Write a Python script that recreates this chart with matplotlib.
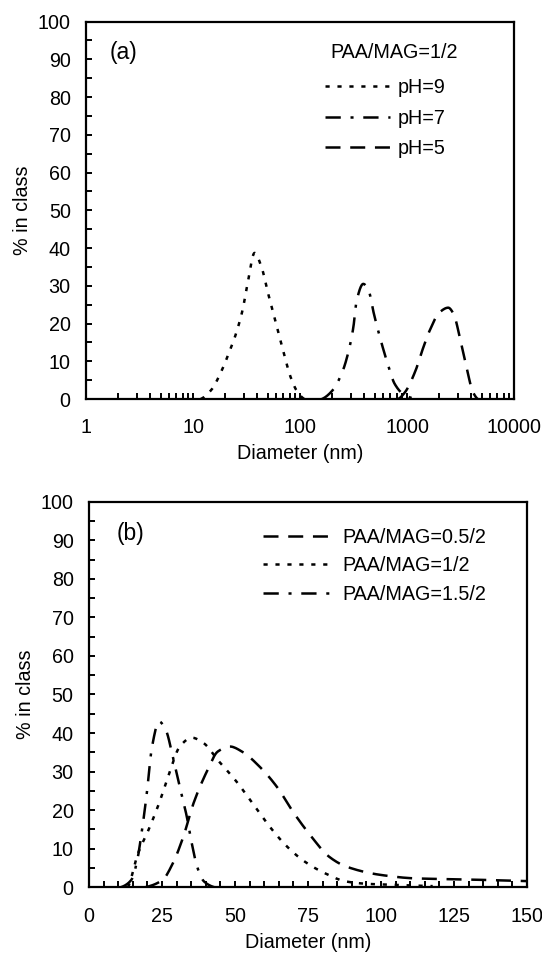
import matplotlib
matplotlib.use("Agg")
import matplotlib.pyplot as plt
import numpy as np

plt.rcParams['font.family'] = ['Liberation Sans', 'DejaVu Sans']
plt.rcParams['lines.scale_dashes'] = False

# ---- Panel (a) data: log-scale diameter distributions at different pH ----
ph9_x = [11.8, 14.8, 18.5, 21.5, 25, 29, 32.3, 37.6, 43.6, 50.3, 61, 70.8, 81.7, 95, 110]
ph9_y = [0, 2.4, 7.5, 12, 17, 23.5, 30.5, 38.7, 35, 28, 19, 12, 5.8, 1.8, 0]

ph7_x = [160, 200, 251, 290, 315, 338, 390, 437, 490, 569, 660, 767, 923, 1200]
ph7_y = [0, 2.2, 7.5, 13.7, 19, 26, 30.5, 28.8, 22.6, 15.5, 9.3, 4, 1.3, 0]

ph5_x = [826, 957, 1200, 1385, 1620, 2018, 2427, 2717, 3160, 3660, 4080, 4580]
ph5_y = [0, 1.8, 7.5, 12.8, 18, 23, 24.2, 22.6, 15.5, 7.5, 2.2, 0]

labels_a = ["pH=9", "pH=7", "pH=5"]
title_a = "PAA/MAG=1/2"

# ---- Panel (b) data: linear-scale diameter distributions at different ratios ----
r05_x = [19.2, 25.2, 28.7, 32.3, 35.8, 40.6, 44.1, 48.3, 52.4, 58.4, 64.3, 70.2, 76.2, 82.1, 88,
         99.9, 111.8, 123.6, 135.5, 145, 150]
r05_y = [0, 1.9, 6.2, 13.1, 21.8, 30.4, 35.2, 36.5, 35.2, 31.3, 26.1, 19.2, 13.1, 8, 5.4,
         3.2, 2.3, 2.1, 1.9, 1.7, 1.6]

r10_x = [13.3, 16.8, 20.4, 24, 27.5, 31.1, 35.2, 39.4, 44.1, 50.1, 56, 61.9, 67.9, 73.8, 80.9,
         88, 95, 105.8, 117.7]
r10_y = [0, 8.8, 14.9, 21.8, 29.6, 36.5, 38.8, 37.3, 33, 27.8, 21.8, 15.7, 10.5, 6.7, 3.6,
         1.5, 0.9, 0.6, 0.3]

r15_x = [10.9, 14.5, 16.3, 18.0, 19.8, 21.6, 24.0, 26.3, 28.7, 31.1, 33.5, 35.2, 37.0, 39.4, 43]
r15_y = [0, 1.9, 6.2, 14, 24.4, 36.5, 43, 40.8, 33.9, 26, 18.3, 11.4, 5.4, 1.5, 0]

labels_b = ["PAA/MAG=0.5/2", "PAA/MAG=1/2", "PAA/MAG=1.5/2"]

xticks_a = [1, 10, 100, 1000, 10000]
xticklabels_a = ["1", "10", "100", "1000", "10000"]
xticks_b = [0, 25, 50, 75, 100, 125, 150]
yticks = [0, 10, 20, 30, 40, 50, 60, 70, 80, 90, 100]

DOT = (0, (3.0, 5.6))
DASH = (0, (10.8, 7.0))
DASHDOT = (0, (11.0, 7.0, 2.2, 7.0))
FS = 14.2
LW = 1.8

fig = plt.figure(figsize=(5.42, 9.56), dpi=100)
axa = fig.add_axes([0.1587, 0.5826, 0.7897, 0.3949])
axb = fig.add_axes([0.1642, 0.0719, 0.8081, 0.4033])


def smooth(xs, ys, log=False, n=300):
    xs = np.asarray(xs, float)
    ys = np.asarray(ys, float)
    t = np.log10(xs) if log else xs
    tt = np.linspace(t[0], t[-1], n)
    h = np.diff(t)
    d = np.diff(ys) / h
    m = np.zeros_like(ys)
    for i in range(1, len(ys) - 1):
        if d[i - 1] * d[i] > 0:
            w1 = 2 * h[i] + h[i - 1]
            w2 = h[i] + 2 * h[i - 1]
            m[i] = (w1 + w2) / (w1 / d[i - 1] + w2 / d[i])
    m[0] = d[0] * 0.5
    m[-1] = d[-1] * 0.5
    idx = np.clip(np.searchsorted(t, tt) - 1, 0, len(t) - 2)
    s = (tt - t[idx]) / h[idx]
    h00 = 2 * s**3 - 3 * s**2 + 1
    h10 = s**3 - 2 * s**2 + s
    h01 = -2 * s**3 + 3 * s**2
    h11 = s**3 - s**2
    yy = h00 * ys[idx] + h10 * h[idx] * m[idx] + h01 * ys[idx + 1] + h11 * h[idx] * m[idx + 1]
    xx = 10**tt if log else tt
    return xx, np.clip(yy, 0, None)


for xs, ys, ls, lab in [(ph9_x, ph9_y, DOT, labels_a[0]),
                        (ph7_x, ph7_y, DASHDOT, labels_a[1]),
                        (ph5_x, ph5_y, DASH, labels_a[2])]:
    xx, yy = smooth(xs, ys, log=True)
    axa.plot(xx, yy, color='black', lw=LW, linestyle=ls, label=lab)

axa.set_xscale('log')
axa.set_xlim(1, 10000)
axa.set_ylim(0, 100)
axa.set_xticks(xticks_a)
axa.set_xticklabels(xticklabels_a)

for xs, ys, ls, lab in [(r05_x, r05_y, DASH, labels_b[0]),
                        (r10_x, r10_y, DOT, labels_b[1]),
                        (r15_x, r15_y, DASHDOT, labels_b[2])]:
    xx, yy = smooth(xs, ys, log=False)
    axb.plot(xx, yy, color='black', lw=LW, linestyle=ls, label=lab)

axb.set_xlim(0, 150)
axb.set_ylim(0, 100)
axb.set_xticks(xticks_b)
axb.xaxis.set_minor_locator(matplotlib.ticker.MultipleLocator(5))

for ax in (axa, axb):
    ax.set_yticks(yticks)
    ax.yaxis.set_minor_locator(matplotlib.ticker.MultipleLocator(5))
    for sp in ax.spines.values():
        sp.set_linewidth(1.6)
    ax.tick_params(which='both', direction='in', width=1.4, length=4.3, labelsize=FS)
    ax.tick_params(axis='y', which='major', pad=11)
    ax.tick_params(axis='x', which='major', pad=14)
    ax.set_xlabel("Diameter (nm)", fontsize=FS, labelpad=5)
    ax.set_ylabel("% in class", fontsize=FS, labelpad=4)

axa.tick_params(axis='x', which='minor', labelbottom=False)

axa.text(0.054, 0.917, "(a)", transform=axa.transAxes, fontsize=16.5, va='center', ha='left')
axb.text(0.062, 0.918, "(b)", transform=axb.transAxes, fontsize=16.5, va='center', ha='left')

axa.text((330 - 86) / 428, (399 - 52) / 377.5, title_a, transform=axa.transAxes,
         fontsize=FS, va='center', ha='left')

axa.legend(loc='upper left', bbox_to_anchor=(0.558, 0.850), frameon=False,
           fontsize=FS, handlelength=3.3, handletextpad=0.4, labelspacing=0.58,
           borderaxespad=0, borderpad=0)

axb.legend(loc='upper left', bbox_to_anchor=(0.397, 0.932), frameon=False,
           fontsize=FS, handlelength=3.6, handletextpad=0.44, labelspacing=0.48,
           borderaxespad=0, borderpad=0)

fig.savefig("out.png", dpi=100)
